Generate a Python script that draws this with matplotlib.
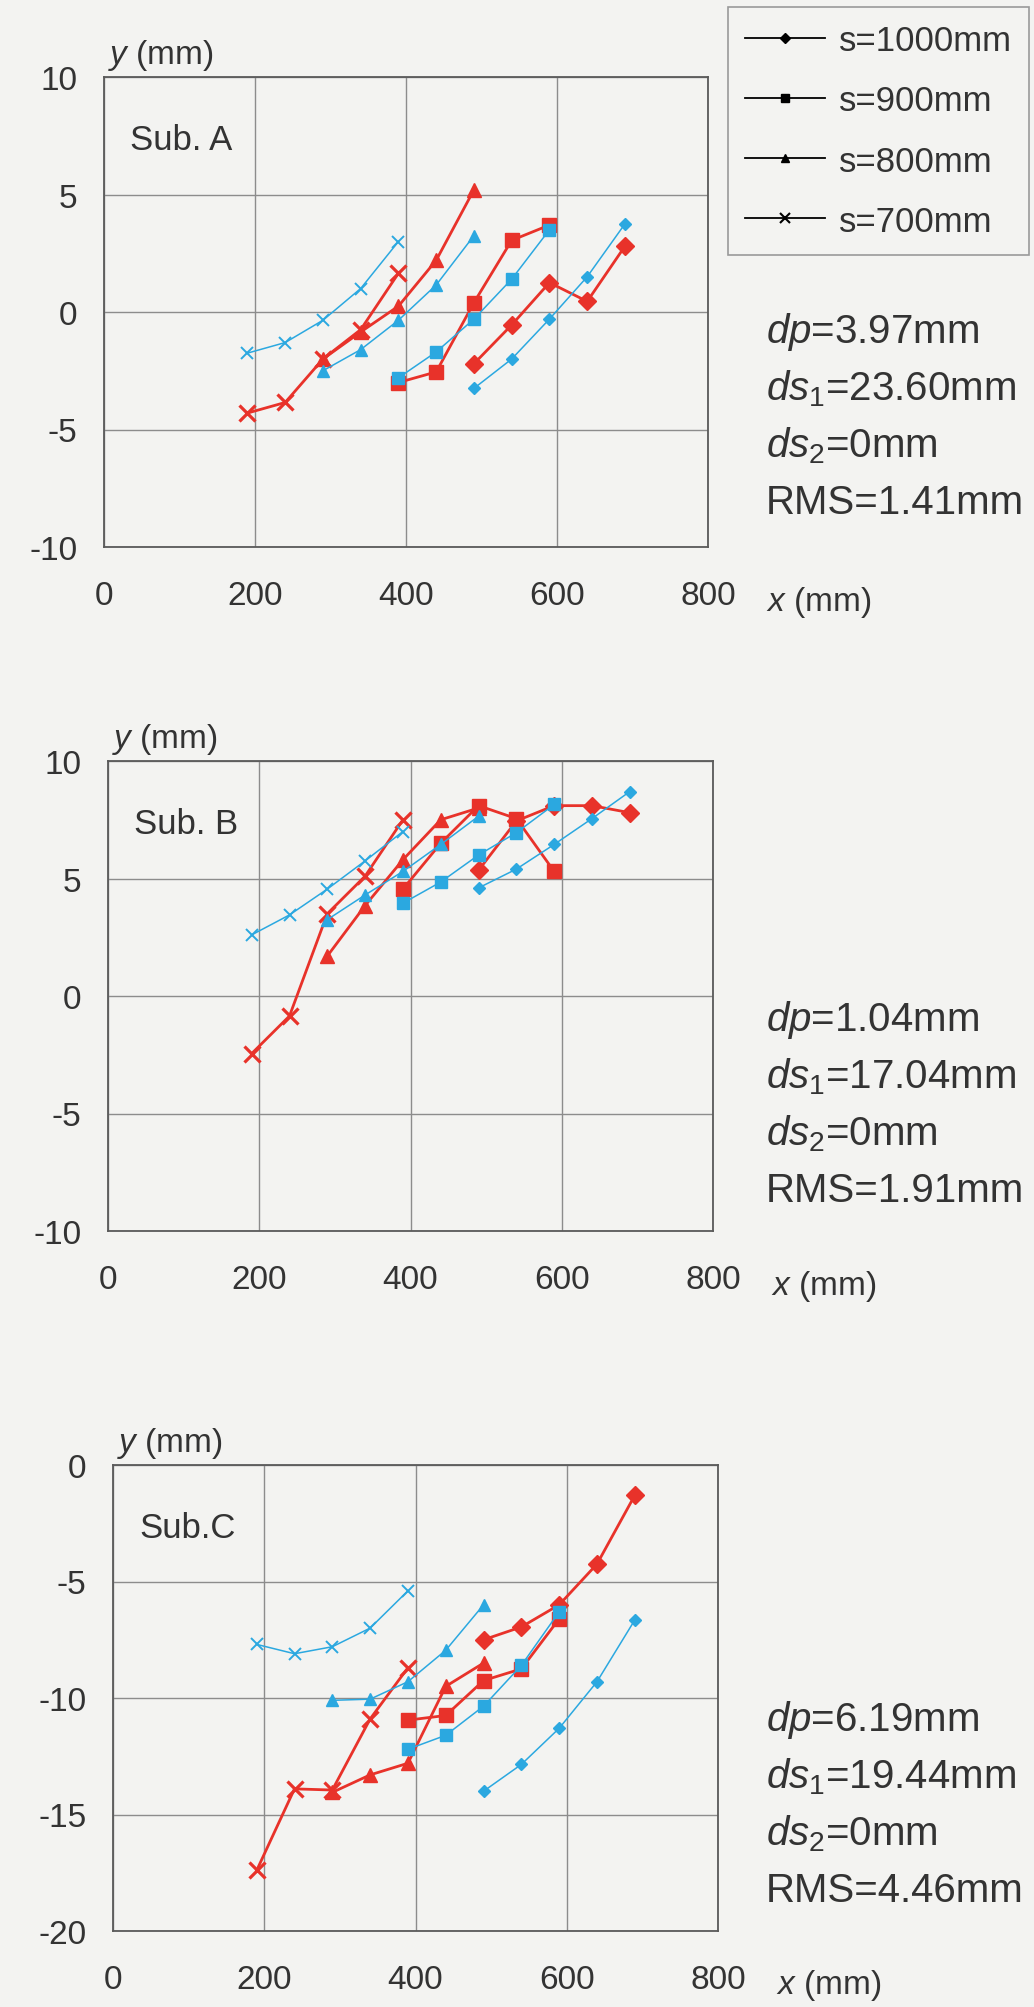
import matplotlib
matplotlib.use("Agg")
import matplotlib.pyplot as plt
from matplotlib.lines import Line2D

plt.rcParams['font.family'] = ['Liberation Sans', 'DejaVu Sans']
plt.rcParams['mathtext.fontset'] = 'custom'
plt.rcParams['mathtext.rm'] = 'Liberation Sans'
plt.rcParams['mathtext.it'] = 'Liberation Sans:italic'
plt.rcParams['mathtext.bf'] = 'Liberation Sans:bold'
plt.rcParams['axes.unicode_minus'] = False

# ---------------- data ----------------
x_700 = [190, 240, 290, 340, 390]
x_800 = [290, 340, 390, 440, 490]
x_900 = [390, 440, 490, 540, 590]
x_1000 = [490, 540, 590, 640, 690]

series_labels = ["s=1000mm", "s=900mm", "s=800mm", "s=700mm"]

# Sub. A
a_red_700 = [-4.3, -3.85, -2.0, -0.75, 1.65]
a_blue_700 = [-1.75, -1.3, -0.35, 1.0, 3.0]
a_red_800 = [-2.0, -0.85, 0.25, 2.2, 5.2]
a_blue_800 = [-2.5, -1.6, -0.35, 1.15, 3.25]
a_red_900 = [-3.0, -2.55, 0.4, 3.05, 3.7]
a_blue_900 = [-2.8, -1.7, -0.3, 1.4, 3.5]
a_red_1000 = [-2.2, -0.55, 1.25, 0.45, 2.8]
a_blue_1000 = [-3.25, -2.0, -0.3, 1.5, 3.75]

# Sub. B
b_red_700 = [-2.45, -0.85, 3.5, 5.1, 7.5]
b_blue_700 = [2.6, 3.45, 4.55, 5.75, 7.0]
b_red_800 = [1.7, 3.85, 5.8, 7.5, 8.0]
b_blue_800 = [3.25, 4.3, 5.3, 6.45, 7.65]
b_red_900 = [4.55, 6.5, 8.1, 7.55, 5.3]
b_blue_900 = [3.95, 4.85, 6.0, 6.95, 8.15]
b_red_1000 = [5.35, 7.45, 8.1, 8.1, 7.8]
b_blue_1000 = [4.6, 5.4, 6.45, 7.55, 8.7]

# Sub. C
c_red_700 = [-17.4, -13.9, -13.95, -10.9, -8.7]
c_blue_700 = [-7.7, -8.1, -7.8, -7.0, -5.4]
c_red_800 = [-14.05, -13.3, -12.8, -9.5, -8.5]
c_blue_800 = [-10.1, -10.05, -9.3, -7.95, -6.0]
c_red_900 = [-10.95, -10.75, -9.25, -8.75, -6.6]
c_blue_900 = [-12.2, -11.6, -10.35, -8.6, -6.3]
c_red_1000 = [-7.5, -6.95, -6.0, -4.25, -1.3]
c_blue_1000 = [-14.0, -12.85, -11.3, -9.3, -6.65]

panel_names = ["Sub. A", "Sub. B", "Sub.C"]
ylims = [(-10, 10), (-10, 10), (-20, 0)]
yticks_list = [[-10, -5, 0, 5, 10], [-10, -5, 0, 5, 10], [-20, -15, -10, -5, 0]]
xticks = [0, 200, 400, 600, 800]

texts_a = ["$dp$=3.97mm", "$ds_1$=23.60mm", "$ds_2$=0mm", "RMS=1.41mm"]
texts_b = ["$dp$=1.04mm", "$ds_1$=17.04mm", "$ds_2$=0mm", "RMS=1.91mm"]
texts_c = ["$dp$=6.19mm", "$ds_1$=19.44mm", "$ds_2$=0mm", "RMS=4.46mm"]

# ---------------- style ----------------
W, H = 1034, 2008
BG = '#f3f3f1'
RED = '#e8322a'
BLUE = '#2ba8e0'
TXT = '#333333'
GRID = '#8c8c8c'

fig = plt.figure(figsize=(W / 100, H / 100), dpi=100, facecolor=BG)

# axes boxes in pixels: left, top, right, bottom
boxes = [(104, 78, 708, 548), (108, 762, 713, 1232), (113, 1466, 718, 1932)]

panel_data = [
    [(x_1000, a_red_1000, a_blue_1000, 'D'), (x_900, a_red_900, a_blue_900, 's'),
     (x_800, a_red_800, a_blue_800, '^'), (x_700, a_red_700, a_blue_700, 'x')],
    [(x_1000, b_red_1000, b_blue_1000, 'D'), (x_900, b_red_900, b_blue_900, 's'),
     (x_800, b_red_800, b_blue_800, '^'), (x_700, b_red_700, b_blue_700, 'x')],
    [(x_1000, c_red_1000, c_blue_1000, 'D'), (x_900, c_red_900, c_blue_900, 's'),
     (x_800, c_red_800, c_blue_800, '^'), (x_700, c_red_700, c_blue_700, 'x')],
]
panel_texts = [texts_a, texts_b, texts_c]
text_first_y = [332, 1020, 1720]
TEXT_X = 766
TEXT_DY = 57

red_ms = {'D': 9, 's': 10.5, '^': 10.5, 'x': 11}
blue_ms = {'D': 6.5, 's': 8, '^': 8, 'x': 8.5}

px = 72 / 100  # points per pixel

for i, (l, t, r, b) in enumerate(boxes):
    ax = fig.add_axes([l / W, (H - b) / H, (r - l) / W, (b - t) / H])
    ax.set_facecolor(BG)
    for xs, red, blue, mk in panel_data[i]:
        ax.plot(xs, red, color=RED, lw=2.0, marker=mk, ms=red_ms[mk],
                mew=2.3 if mk == 'x' else 1, mec=RED, mfc=RED, zorder=3)
        ax.plot(xs, blue, color=BLUE, lw=1.1, marker=mk, ms=blue_ms[mk],
                mew=1.4 if mk == 'x' else 1, mec=BLUE, mfc=BLUE, zorder=4)
    ax.set_xlim(0, 800)
    ax.set_ylim(*ylims[i])
    ax.set_xticks(xticks)
    ax.set_yticks(yticks_list[i])
    ax.grid(True, color=GRID, lw=1.0)
    ax.set_axisbelow(True)
    for sp in ax.spines.values():
        sp.set_color('#5a5a5a')
        sp.set_linewidth(1.3)
    ax.tick_params(axis='both', length=0, labelsize=24, labelcolor=TXT)
    ax.tick_params(axis='x', pad=24)
    ax.tick_params(axis='y', pad=19)
    ax.annotate("$y$ (mm)", xy=(0, 1), xycoords='axes fraction',
                xytext=(4 * px, 5 * px), textcoords='offset points',
                ha='left', va='bottom', fontsize=24, color=TXT)
    ax.annotate("$x$ (mm)", xy=(1, 0), xycoords='axes fraction',
                xytext=(58 * px, -54 * px), textcoords='offset points',
                ha='left', va='center', fontsize=24, color=TXT)
    ax.annotate(panel_names[i], xy=(0, 1), xycoords='axes fraction',
                xytext=(26 * px, -62 * px), textcoords='offset points',
                ha='left', va='center', fontsize=25, color=TXT)
    for k, s in enumerate(panel_texts[i]):
        y = text_first_y[i] + k * TEXT_DY
        fig.text(TEXT_X / W, 1 - y / H, s, fontsize=29, color=TXT,
                 ha='left', va='center')

handles = [
    Line2D([], [], color='black', lw=1.3, marker='D', ms=5),
    Line2D([], [], color='black', lw=1.3, marker='s', ms=6),
    Line2D([], [], color='black', lw=1.3, marker='^', ms=6),
    Line2D([], [], color='black', lw=1.3, marker='x', ms=7, mew=1.5),
]
leg = fig.legend(handles, series_labels, loc='upper left',
                 bbox_to_anchor=(728 / W, 1 - 8 / H), fontsize=25,
                 frameon=True, fancybox=False, framealpha=1,
                 facecolor=BG, edgecolor='#9a9a9a', labelspacing=0.78,
                 handlelength=2.3, handletextpad=0.4, borderpad=0.5,
                 borderaxespad=0)
leg.get_frame().set_linewidth(1.2)
for txt in leg.get_texts():
    txt.set_color(TXT)

fig.savefig("out.png", dpi=100, facecolor=BG)
